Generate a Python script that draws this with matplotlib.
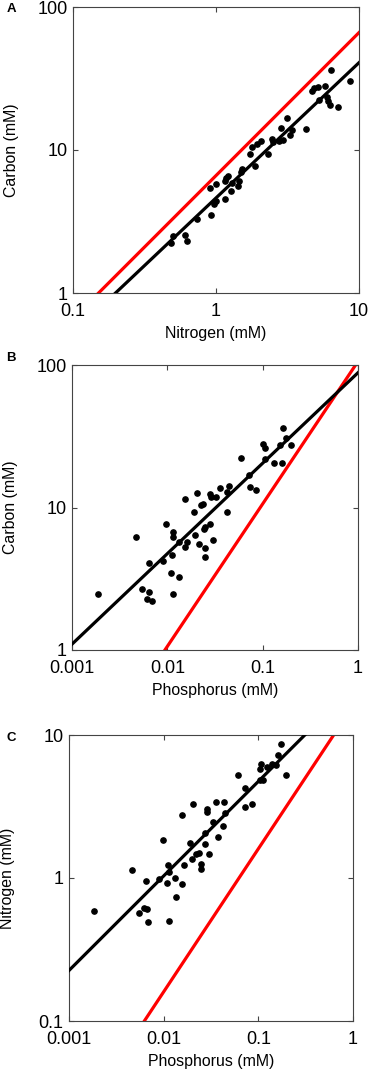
import numpy as np
import matplotlib
matplotlib.use('Agg')
import matplotlib.pyplot as plt

plt.rcParams['font.family'] = ['Liberation Sans', 'DejaVu Sans']

# Panel A : carbon vs nitrogen (mM)
a_nitrogen = [0.486, 0.497, 0.603, 0.625, 0.734, 0.925, 0.910, 1.00, 0.961, 1.00,
              1.16, 1.17, 1.21, 1.16, 1.28, 1.30, 1.42, 1.44, 1.50, 1.53,
              1.73, 1.78, 1.86, 1.93, 2.07, 2.30, 2.45, 2.52, 2.76, 2.85,
              2.96, 3.13, 3.30, 3.39, 4.26, 4.67, 4.87, 5.20, 5.79, 5.28,
              5.94, 6.11, 6.28, 7.18, 6.35, 8.65]
a_carbon = [2.22, 2.50, 2.56, 2.30, 3.27, 3.50, 5.39, 5.75, 4.18, 4.41,
            4.53, 6.33, 6.61, 6.06, 5.19, 5.84, 5.59, 6.06, 7.05, 7.32,
            9.33, 10.5, 7.77, 10.96, 11.6, 9.33, 11.9, 11.4, 11.6, 14.3,
            11.75, 16.8, 12.7, 13.7, 14.0, 25.9, 27.1, 27.8, 28.2, 22.4,
            23.3, 22.0, 20.7, 20.1, 36.4, 30.5]

# Panel B : carbon vs phosphorus (mM)
b_phosphorus = [0.00187, 0.0047, 0.00543, 0.00649, 0.00613, 0.00692, 0.00638, 0.00896, 0.0097, 0.0110,
                0.0114, 0.0112, 0.0114, 0.0114, 0.0134, 0.0132, 0.0155, 0.0162, 0.0155, 0.0194,
                0.0192, 0.0206, 0.0228, 0.0236, 0.0217, 0.0247, 0.0247, 0.0241, 0.0247, 0.0277,
                0.0303, 0.0283, 0.0290, 0.0325, 0.0361, 0.0425, 0.0442, 0.0425, 0.0586, 0.0717,
                0.0728, 0.0855, 0.1014, 0.105, 0.107, 0.133, 0.158, 0.151, 0.164, 0.174, 0.198]
b_carbon = [2.47, 6.18, 2.68, 2.54, 2.28, 2.22, 4.10, 4.21, 7.66, 3.49,
            2.47, 4.64, 6.69, 6.24, 3.24, 5.76, 5.31, 5.76, 11.4, 6.38,
            9.35, 12.7, 10.4, 10.6, 5.52, 5.17, 4.52, 7.03, 7.33, 7.62,
            5.92, 12.4, 11.8, 11.9, 13.6, 9.35, 14.2, 12.9, 22.1, 16.9,
            14.0, 13.3, 27.9, 26.0, 21.8, 20.6, 20.4, 27.5, 36.3, 30.6, 27.5]

# Panel C : nitrogen vs phosphorus (mM)
c_phosphorus = [0.00184, 0.00466, 0.00644, 0.00548, 0.0062, 0.0066, 0.00687, 0.00897, 0.00973, 0.0109,
                0.0112, 0.0114, 0.0115, 0.0131, 0.0134, 0.0157, 0.0164, 0.0155, 0.0192, 0.0205,
                0.0197, 0.0219, 0.0237, 0.0245, 0.0245, 0.0272, 0.0272, 0.0288, 0.0288, 0.0303,
                0.0333, 0.0353, 0.0371, 0.0432, 0.0425, 0.0443, 0.0603, 0.0720, 0.0720, 0.0847,
                0.1035, 0.105, 0.108, 0.124, 0.138, 0.155, 0.162, 0.175, 0.198, 0.111]
c_nitrogen = [0.588, 1.14, 0.948, 0.569, 0.617, 0.611, 0.492, 0.99, 1.85, 0.923,
              1.23, 1.11, 0.498, 1.0, 0.736, 0.904, 1.23, 2.74, 1.77, 3.27,
              1.36, 1.46, 1.50, 1.26, 1.16, 1.74, 2.07, 3.02, 2.90, 1.46,
              2.47, 3.40, 1.94, 3.40, 2.30, 2.86, 5.28, 4.28, 3.14, 3.31,
              4.82, 5.82, 6.31, 5.97, 6.31, 6.20, 7.21, 8.61, 5.23, 4.88]

# fitted power law (black) : y = coef * x ** expo
fit_a = (4.62, 0.946)
fit_b = (88.3, 0.635)
fit_c = (21.7, 0.661)
# Redfield ratio (red)
redfield_cn = 106 / 16
redfield_cp = 106
redfield_np = 16

xticks_n = [0.1, 1, 10]
xticks_p = [0.001, 0.01, 0.1, 1]
yticks_c = [1, 10, 100]
yticks_n = [0.1, 1, 10]


def tick_text(v):
    return ('%g' % v)


def setupAxes(ax, xticks, yticks, xlabel, ylabel, ylab_x):
    ax.set_xscale('log')
    ax.set_yscale('log')
    ax.set_xlim(xticks[0], xticks[-1])
    ax.set_ylim(yticks[0], yticks[-1])
    ax.set_xticks(xticks)
    ax.set_xticklabels([tick_text(v) for v in xticks])
    ax.set_yticks(yticks)
    ax.set_yticklabels([tick_text(v) for v in yticks])
    ax.minorticks_off()
    ax.tick_params(which='major', direction='in', top=True, right=True,
                   length=3.5, width=0.8, color='#444444', labelsize=13)
    ax.tick_params(axis='x', pad=7)
    ax.tick_params(axis='y', pad=4)
    for sp in ax.spines.values():
        sp.set_color('#444444')
        sp.set_linewidth(0.8)
    ax.set_xlabel(xlabel, fontsize=11.4)
    ax.set_ylabel(ylabel, fontsize=11.4)
    ax.xaxis.set_label_coords(0.5, -0.115)
    ax.yaxis.set_label_coords(ylab_x, 0.5)


def drawPanel(ax, x, y, fit, ratio, xticks):
    xx = np.logspace(np.log10(xticks[0]), np.log10(xticks[-1]), 200)
    ax.plot(xx, ratio * xx, color='#ff0000', lw=2.3, zorder=2)
    ax.plot(xx, fit[0] * xx ** fit[1], color='black', lw=2.3, zorder=3)
    ax.plot(x, y, 'o', color='black', ms=3.8, zorder=4)


fig = plt.figure(figsize=(3.68, 10.70), dpi=100)

axA = fig.add_axes([73 / 368, 1 - 293 / 1070, 286 / 368, 286 / 1070])
axB = fig.add_axes([72 / 368, 1 - 650 / 1070, 286 / 368, 285 / 1070])
axC = fig.add_axes([69 / 368, 1 - 1021 / 1070, 284 / 368, 286 / 1070])

drawPanel(axA, a_nitrogen, a_carbon, fit_a, redfield_cn, xticks_n)
setupAxes(axA, xticks_n, yticks_c, 'Nitrogen (mM)', 'Carbon (mM)', -0.188)

drawPanel(axB, b_phosphorus, b_carbon, fit_b, redfield_cp, xticks_p)
setupAxes(axB, xticks_p, yticks_c, 'Phosphorus (mM)', 'Carbon (mM)', -0.19)

drawPanel(axC, c_phosphorus, c_nitrogen, fit_c, redfield_np, xticks_p)
setupAxes(axC, xticks_p, yticks_n, 'Phosphorus (mM)', 'Nitrogen (mM)', -0.19)

# panel letters
for lab, yy in [('A', 9), ('B', 358), ('C', 738)]:
    fig.text(11 / 368, 1 - yy / 1070, lab, fontsize=9.5, fontweight='bold',
             ha='center', va='center')

fig.savefig('out.png', dpi=100)
